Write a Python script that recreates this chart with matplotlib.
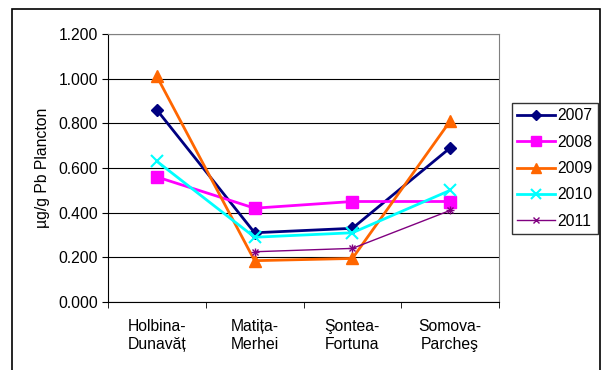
import numpy as np
import matplotlib.pyplot as plt
from matplotlib.patches import Rectangle

plt.rcParams['font.family'] = ['Liberation Sans', 'DejaVu Sans']

sites = ['Holbina-\nDunavăț', 'Matița-\nMerhei', 'Şontea-\nFortuna', 'Somova-\nParcheş']
y2007 = [0.860, 0.310, 0.330, 0.690]
y2008 = [0.560, 0.420, 0.450, 0.450]
y2009 = [1.010, 0.185, 0.195, 0.810]
y2010 = [0.630, 0.290, 0.310, 0.500]
y2011 = [np.nan, 0.225, 0.240, 0.410]

series = [
    ('2007', y2007, '#000080', 'D', 6, 2.0),
    ('2008', y2008, '#FF00FF', 's', 8, 2.0),
    ('2009', y2009, '#FF6600', '^', 9, 2.0),
    ('2010', y2010, '#00FFFF', 'x', 9, 2.0),
    ('2011', y2011, '#800080', 'x', 6, 1.0),
]

fs = 11.3

fig = plt.figure(figsize=(6.01, 3.70), dpi=100)
# outer chart frame
fig.patches.append(Rectangle((12 / 601, -0.01), 588 / 601, 1 - 9 / 370 + 0.01,
                             transform=fig.transFigure, fill=False,
                             edgecolor='black', linewidth=1.2))

ax = fig.add_axes([108 / 601, 1 - 302 / 370, 391 / 601, 268 / 370])
x = np.arange(len(sites))
handles = []
for name, vals, col, mk, ms, lw in series:
    if name == '2011':
        # star marker built from an x and a +
        h, = ax.plot(x, vals, color=col, linewidth=lw, marker='x', markersize=ms - 1,
                     markeredgewidth=1.0)
        ax.plot(x, vals, color=col, marker='+', markersize=ms, linestyle='none',
                markeredgewidth=1.0)
    else:
        h, = ax.plot(x, vals, color=col, marker=mk, markersize=ms, linewidth=lw,
                     markeredgewidth=1.5 if mk == 'x' else 1.0)
    handles.append(h)

ax.set_xlim(-0.5, 3.5)
ax.set_ylim(0, 1.2)
ticks = np.arange(0, 1.21, 0.2)
ax.set_yticks(ticks)
ax.set_yticklabels([f'{v:.3f}' for v in ticks], fontsize=fs)
ax.set_xticks(x)
ax.set_xticklabels(sites, fontsize=fs, linespacing=1.25)
ax.set_xticks(np.arange(-0.5, 3.6, 1.0), minor=True)
ax.tick_params(axis='x', which='major', length=0, pad=12)
ax.tick_params(axis='x', which='minor', length=4, color='black')
ax.tick_params(axis='y', length=4, color='black', pad=3)
ax.grid(axis='y', color='black', linewidth=0.8)
ax.set_axisbelow(True)
for side in ['top', 'right']:
    ax.spines[side].set_color('#808080')
for side in ['left', 'bottom']:
    ax.spines[side].set_color('black')
ax.set_ylabel('µg/g Pb Plancton', fontsize=fs, labelpad=6)

leg = ax.legend(handles, [s[0] for s in series], loc='upper right',
                bbox_to_anchor=(598 / 601, 1 - 103 / 370),
                bbox_transform=fig.transFigure, fontsize=fs, frameon=True,
                fancybox=False, edgecolor='black', borderpad=0.35, borderaxespad=0,
                handlelength=2.4, handletextpad=0.15, labelspacing=0.72,
                markerscale=0.85)
leg.get_frame().set_linewidth(1.0)

fig.savefig('out.png', dpi=100)
